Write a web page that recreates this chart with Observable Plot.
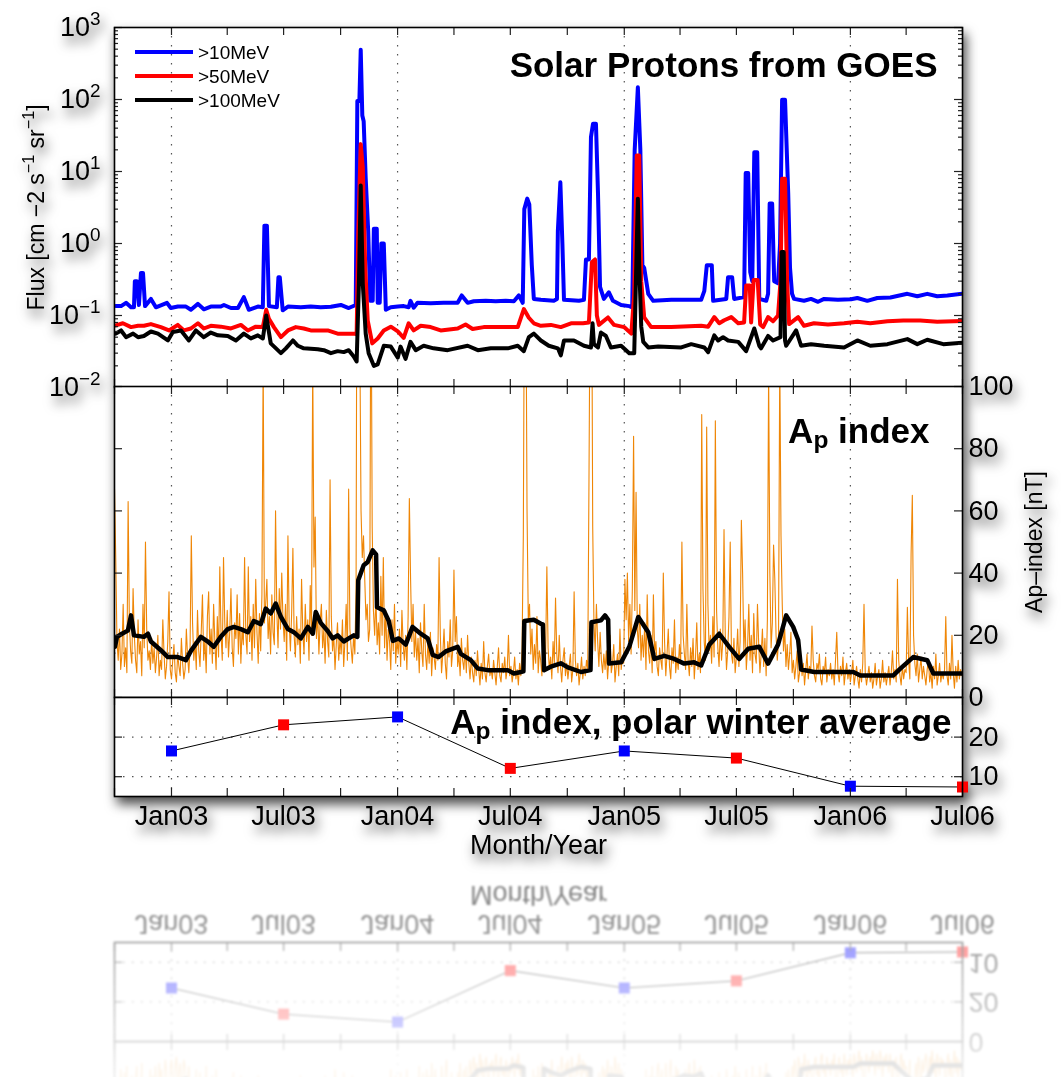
<!DOCTYPE html>
<html>
<head>
<meta charset="utf-8">
<script src="https://cdn.jsdelivr.net/npm/d3@7"></script>
<script src="https://cdn.jsdelivr.net/npm/@observablehq/plot@0.6"></script>
<style>
  html, body { margin: 0; padding: 0; background: #fff; }
  #page { position: relative; width: 1061px; height: 1077px; overflow: hidden; background: #fff; }
  .layer { position: absolute; left: 0; top: 0; width: 1061px; height: 869px; }
  #fig { filter: drop-shadow(3px 7px 6px rgba(0,0,0,0.7)); }
  #mirror {
    transform-origin: 0 869.5px;
    transform: scaleY(-1);
    filter: blur(1.3px);
    -webkit-mask-image: linear-gradient(to bottom, rgba(0,0,0,0) 620px, rgba(0,0,0,0.08) 662px, rgba(0,0,0,0.55) 869px);
    mask-image: linear-gradient(to bottom, rgba(0,0,0,0) 620px, rgba(0,0,0,0.08) 662px, rgba(0,0,0,0.55) 869px);
  }
</style>
</head>
<body>
<div id="page">
  <div id="fig" class="layer"></div>
  <div id="mirror" class="layer"></div>
</div>
<script>
// ---------------------------------------------------------------------------
// GOES integral proton flux [decimal year, flux in cm^-2 s^-1 sr^-1]
// ---------------------------------------------------------------------------
const protons10 = [
  [2002.754,0.135],[2002.777,0.135],[2002.799,0.15],[2002.821,0.13],[2002.834,0.13],[2002.838,0.30],
  [2002.847,0.30],[2002.856,0.14],[2002.865,0.39],[2002.874,0.39],[2002.883,0.135],[2002.909,0.17],
  [2002.931,0.13],[2002.980,0.15],[2002.997,0.127],[2003.028,0.133],[2003.064,0.133],[2003.086,0.12],
  [2003.117,0.145],[2003.143,0.122],[2003.174,0.133],[2003.218,0.133],[2003.232,0.14],[2003.263,0.127],
  [2003.294,0.127],[2003.320,0.18],[2003.342,0.12],[2003.382,0.133],[2003.404,0.13],[2003.411,1.77],
  [2003.422,1.77],[2003.431,0.135],[2003.466,0.13],[2003.473,0.34],[2003.479,0.34],[2003.492,0.118],
  [2003.515,0.133],[2003.572,0.13],[2003.616,0.133],[2003.660,0.13],[2003.705,0.132],[2003.749,0.14],
  [2003.784,0.127],[2003.815,0.14],[2003.822,95],[2003.831,95],[2003.837,490],[2003.844,60],
  [2003.850,50],[2003.859,8],[2003.870,1.5],[2003.879,0.16],[2003.890,0.16],[2003.895,1.6],
  [2003.908,1.6],[2003.912,0.15],[2003.921,0.15],[2003.928,1.0],[2003.939,1.0],[2003.948,0.12],
  [2003.970,0.13],[2004.001,0.133],[2004.027,0.135],[2004.049,0.13],[2004.057,0.16],[2004.071,0.128],
  [2004.088,0.15],[2004.146,0.148],[2004.203,0.15],[2004.265,0.15],[2004.283,0.19],[2004.309,0.15],
  [2004.336,0.158],[2004.389,0.16],[2004.433,0.158],[2004.477,0.16],[2004.513,0.158],[2004.535,0.19],
  [2004.552,0.15],[2004.559,3.0],[2004.572,4.2],[2004.581,3.5],[2004.592,0.5],[2004.601,0.17],
  [2004.632,0.165],[2004.689,0.16],[2004.703,0.17],[2004.707,1.5],[2004.718,7.1],[2004.727,1.0],
  [2004.734,0.165],[2004.800,0.16],[2004.822,0.165],[2004.831,0.6],[2004.844,0.6],[2004.853,30],
  [2004.862,46],[2004.875,46],[2004.884,5],[2004.893,0.25],[2004.910,0.17],[2004.932,0.21],
  [2004.950,0.16],[2004.986,0.14],[2005.022,0.135],[2005.035,0.13],[2005.046,20],[2005.060,148],
  [2005.071,20],[2005.080,0.5],[2005.088,0.46],[2005.106,0.2],[2005.128,0.16],[2005.208,0.165],
  [2005.340,0.165],[2005.354,0.22],[2005.365,0.5],[2005.387,0.5],[2005.393,0.16],[2005.451,0.17],
  [2005.459,0.34],[2005.477,0.34],[2005.486,0.17],[2005.530,0.18],[2005.537,9.5],[2005.548,9.5],
  [2005.557,0.4],[2005.566,0.3],[2005.575,18.5],[2005.588,18.5],[2005.597,0.17],[2005.628,0.16],
  [2005.636,0.2],[2005.643,3.6],[2005.654,3.6],[2005.663,0.3],[2005.680,0.28],[2005.689,1],
  [2005.698,99],[2005.711,99],[2005.725,5],[2005.733,0.46],[2005.742,0.2],[2005.751,0.17],
  [2005.795,0.16],[2005.826,0.17],[2005.857,0.155],[2005.884,0.17],[2005.945,0.165],[2006.003,0.168],
  [2006.031,0.175],[2006.075,0.16],[2006.119,0.175],[2006.177,0.178],[2006.252,0.2],[2006.296,0.185],
  [2006.340,0.2],[2006.384,0.185],[2006.429,0.19],[2006.495,0.2]
];
const protons50 = [
  [2002.754,0.073],[2002.785,0.078],[2002.821,0.069],[2002.852,0.072],[2002.878,0.072],[2002.909,0.076],
  [2002.953,0.069],[2002.989,0.062],[2003.028,0.074],[2003.055,0.062],[2003.086,0.066],[2003.117,0.078],
  [2003.143,0.066],[2003.174,0.072],[2003.218,0.07],[2003.263,0.066],[2003.307,0.074],[2003.338,0.062],
  [2003.373,0.07],[2003.404,0.069],[2003.419,0.12],[2003.431,0.09],[2003.453,0.069],[2003.484,0.05],
  [2003.515,0.062],[2003.550,0.069],[2003.585,0.066],[2003.616,0.062],[2003.691,0.062],[2003.735,0.056],
  [2003.806,0.056],[2003.819,0.055],[2003.826,1.4],[2003.837,24],[2003.846,11.5],[2003.857,0.46],
  [2003.868,0.085],[2003.888,0.041],[2003.912,0.048],[2003.939,0.062],[2003.970,0.07],[2004.001,0.06],
  [2004.027,0.049],[2004.049,0.078],[2004.071,0.062],[2004.102,0.072],[2004.146,0.069],[2004.190,0.062],
  [2004.265,0.066],[2004.300,0.075],[2004.331,0.065],[2004.380,0.069],[2004.530,0.069],[2004.557,0.123],
  [2004.579,0.093],[2004.601,0.078],[2004.632,0.072],[2004.676,0.074],[2004.720,0.069],[2004.765,0.078],
  [2004.818,0.078],[2004.844,0.08],[2004.857,0.55],[2004.871,0.6],[2004.879,0.1],[2004.888,0.074],
  [2004.928,0.094],[2004.955,0.074],[2004.999,0.069],[2005.031,0.056],[2005.044,0.2],[2005.055,16.7],
  [2005.066,16.7],[2005.075,0.3],[2005.088,0.094],[2005.119,0.069],[2005.208,0.069],[2005.340,0.072],
  [2005.371,0.07],[2005.398,0.095],[2005.420,0.078],[2005.442,0.086],[2005.473,0.095],[2005.504,0.078],
  [2005.530,0.08],[2005.539,0.26],[2005.555,0.26],[2005.561,0.08],[2005.572,0.31],[2005.590,0.31],
  [2005.601,0.075],[2005.614,0.069],[2005.636,0.095],[2005.658,0.083],[2005.680,0.1],[2005.691,0.3],
  [2005.698,7.9],[2005.711,7.9],[2005.720,0.3],[2005.729,0.076],[2005.769,0.095],[2005.795,0.072],
  [2005.839,0.078],[2005.901,0.075],[2005.972,0.078],[2006.031,0.082],[2006.088,0.078],[2006.164,0.083],
  [2006.234,0.085],[2006.309,0.085],[2006.384,0.082],[2006.495,0.084]
];
const protons100 = [
  [2002.754,0.056],[2002.777,0.062],[2002.799,0.05],[2002.830,0.056],[2002.852,0.05],[2002.878,0.052],
  [2002.909,0.06],[2002.940,0.056],[2002.984,0.045],[2003.006,0.059],[2003.042,0.062],[2003.077,0.045],
  [2003.108,0.062],[2003.143,0.05],[2003.174,0.058],[2003.205,0.053],[2003.249,0.052],[2003.285,0.045],
  [2003.320,0.056],[2003.351,0.048],[2003.382,0.053],[2003.404,0.048],[2003.419,0.1],[2003.439,0.041],
  [2003.484,0.03],[2003.506,0.035],[2003.537,0.045],[2003.559,0.038],[2003.585,0.035],[2003.647,0.034],
  [2003.674,0.033],[2003.705,0.03],[2003.735,0.032],[2003.762,0.031],[2003.784,0.033],[2003.806,0.027],
  [2003.819,0.023],[2003.829,0.28],[2003.837,6.4],[2003.846,0.28],[2003.859,0.056],[2003.872,0.03],
  [2003.895,0.02],[2003.912,0.021],[2003.939,0.038],[2003.970,0.037],[2004.001,0.026],[2004.013,0.037],
  [2004.035,0.025],[2004.057,0.043],[2004.080,0.033],[2004.115,0.038],[2004.159,0.035],[2004.221,0.033],
  [2004.309,0.038],[2004.354,0.033],[2004.411,0.035],[2004.486,0.035],[2004.530,0.038],[2004.557,0.032],
  [2004.579,0.05],[2004.601,0.056],[2004.632,0.045],[2004.667,0.038],[2004.707,0.035],[2004.720,0.028],
  [2004.734,0.045],[2004.778,0.045],[2004.822,0.038],[2004.853,0.036],[2004.860,0.078],[2004.866,0.04],
  [2004.884,0.036],[2004.897,0.058],[2004.919,0.052],[2004.941,0.036],[2004.986,0.038],[2005.022,0.03],
  [2005.044,0.03],[2005.053,0.5],[2005.060,4.2],[2005.066,0.5],[2005.075,0.07],[2005.084,0.043],
  [2005.106,0.036],[2005.150,0.037],[2005.252,0.036],[2005.296,0.04],[2005.354,0.036],[2005.371,0.031],
  [2005.398,0.053],[2005.415,0.045],[2005.437,0.05],[2005.459,0.045],[2005.504,0.043],[2005.539,0.032],
  [2005.575,0.066],[2005.597,0.038],[2005.605,0.035],[2005.636,0.052],[2005.658,0.045],[2005.691,0.05],
  [2005.696,0.76],[2005.705,0.76],[2005.711,0.045],[2005.716,0.038],[2005.760,0.062],[2005.782,0.038],
  [2005.826,0.04],[2005.884,0.038],[2005.972,0.036],[2006.031,0.045],[2006.088,0.038],[2006.164,0.04],
  [2006.252,0.047],[2006.296,0.04],[2006.340,0.046],[2006.411,0.04],[2006.495,0.042]
];
const protonLabels = [">10MeV", ">50MeV", ">100MeV"];
const protonColors = ["#0000ff", "#ff0000", "#000000"];

// ---------------------------------------------------------------------------
// Ap index: every second day starting 2002-10-01 [nT]
// ---------------------------------------------------------------------------
const apEvery2Days = [
  67,45,18,12,22,9,14,30,10,16,8,63,24,15,11,35,          // 2002 Oct
  20,12,8,25,14,18,7,30,16,50,22,12,15,9,19,              // Nov
  11,16,8,13,20,7,12,9,25,14,6,10,18,34,9,                // Dec
  6,12,17,8,5,14,10,7,19,11,6,9,22,13,8,16,               // 2003 Jan
  52,24,12,18,9,28,15,10,21,33,12,19,8,26,                // Feb
  34,14,22,11,30,18,9,26,13,42,20,12,45,24,16,            // Mar
  28,13,21,35,16,10,24,19,33,14,27,11,22,17,45,           // Apr
  20,14,42,18,26,12,30,16,38,21,11,27,15,33,109,24,       // May
  30,38,19,26,14,33,21,17,60,28,16,35,22,40,25,           // Jun
  18,30,12,52,24,15,27,48,20,13,26,17,22,11,38,           // Jul
  21,14,30,18,25,12,36,20,108,42,58,19,27,14,24,30,       // Aug
  16,22,11,28,18,13,70,26,15,20,9,17,24,12,19,            // Sep
  14,25,10,18,30,12,67,22,16,11,20,14,35,204,191,         // Oct
  116,60,45,52,38,25,30,18,22,150,55,28,20,33,17,         // Nov
  24,14,39,20,45,16,28,12,22,18,9,25,15,30,11,19,         // Dec
  14,22,10,28,17,12,20,9,26,64,38,18,30,13,21,            // 2004 Jan
  12,19,8,24,15,10,30,14,9,18,11,21,7,16,13,              // Feb
  9,17,12,45,20,8,14,22,11,6,18,13,25,10,15,              // Mar
  41,18,26,10,14,7,19,12,9,16,8,20,11,6,13,               // Apr
  8,5,12,7,15,9,4,11,6,18,8,5,10,14,7,9,                  // May
  6,12,8,4,10,16,7,5,11,8,13,6,9,20,7,                    // Jun
  10,5,8,13,6,9,4,11,7,16,52,150,140,60,25,               // Jul
  30,14,22,9,17,11,26,8,15,12,7,19,10,14,42,16,           // Aug
  9,13,6,18,11,32,14,8,20,10,5,12,16,7,11,                // Sep
  6,10,14,5,9,34,12,7,11,4,8,13,6,10,7,                   // Oct
  12,9,70,140,160,55,24,15,30,18,10,21,12,8,14,           // Nov
  9,15,6,12,20,8,11,17,5,10,14,7,22,9,13,11,              // Dec
  38,25,40,18,30,14,35,84,28,66,22,16,30,12,20,           // 2005 Jan
  13,24,9,33,15,11,20,8,33,14,18,10,7,16,                 // Feb
  12,9,40,18,7,14,22,10,6,16,11,25,8,13,9,17,             // Mar
  11,50,20,14,9,30,12,7,16,10,19,6,13,24,9,               // Apr
  14,8,91,35,18,12,87,30,15,20,11,26,13,89,28,            // May
  16,10,22,12,18,54,20,9,15,26,50,14,11,19,8,             // Jun
  13,22,10,18,57,40,15,25,9,16,30,12,20,8,27,14,          // Jul
  11,30,17,8,14,22,10,19,7,25,105,40,16,24,49,            // Aug
  38,20,12,18,110,52,30,15,22,10,17,9,14,21,8,            // Sep
  12,6,10,15,5,8,13,7,11,4,9,14,6,10,8,23,                // Oct
  12,7,5,11,9,14,6,4,10,8,13,5,9,7,11,                    // Nov
  6,9,4,12,21,8,5,10,7,13,4,8,11,6,9,                     // Dec
  5,8,12,4,7,10,6,3,9,5,11,30,8,4,7,10,                   // 2006 Jan
  5,8,3,6,11,4,7,9,3,6,12,5,8,4,                          // Feb
  7,10,4,8,15,6,9,5,38,12,7,4,10,6,9,                     // Mar
  8,29,12,6,46,65,20,11,7,14,5,9,13,6,10,                 // Apr
  7,4,9,12,5,8,3,10,6,14,4,7,11,5,8,6,                    // May
  9,26,7,4,11,6,20,8,3,10,5,12,6,9,7                      // Jun
];

// Running mean of Ap [decimal year, nT]
const apRunningMean = [
  [2002.750,16.3],[2002.759,19.5],[2002.781,20.5],[2002.807,21.5],[2002.821,26.4],[2002.834,20],
  [2002.878,19.5],[2002.896,20.5],[2002.909,18],[2002.953,15.2],[2002.984,13],[2003.028,13],
  [2003.064,12],[2003.086,15],[2003.130,19.5],[2003.161,18],[2003.187,16.3],[2003.218,19.5],
  [2003.249,22],[2003.276,22.7],[2003.307,22],[2003.338,21],[2003.364,24.6],[2003.395,23.6],
  [2003.417,28.6],[2003.439,27],[2003.461,30.2],[2003.484,25.9],[2003.515,22],[2003.541,21],
  [2003.572,19],[2003.603,22.7],[2003.625,20.5],[2003.638,27.5],[2003.660,24],[2003.691,21.4],
  [2003.713,19],[2003.735,20],[2003.762,18],[2003.784,19],[2003.806,20],[2003.822,19.5],
  [2003.826,37.7],[2003.850,42.5],[2003.868,43.6],[2003.890,47.3],[2003.905,46],[2003.909,29],
  [2003.939,28],[2003.961,24.6],[2003.979,18.2],[2004.005,19],[2004.036,17],[2004.066,22.7],
  [2004.102,20.5],[2004.133,19],[2004.155,13.7],[2004.181,13],[2004.212,14.8],[2004.265,16.3],
  [2004.279,14],[2004.323,12],[2004.354,9.3],[2004.398,8.8],[2004.442,8.8],[2004.486,8.8],
  [2004.513,7.7],[2004.544,8.2],[2004.555,8.4],[2004.559,24.6],[2004.601,25],[2004.632,23.7],
  [2004.641,23.5],[2004.646,8.8],[2004.676,9.9],[2004.720,11],[2004.751,9.7],[2004.809,8.2],
  [2004.851,8.8],[2004.855,24.2],[2004.897,24.8],[2004.915,26.4],[2004.929,25],[2004.933,10.9],
  [2004.986,11.3],[2005.022,16.3],[2005.062,25.9],[2005.106,21],[2005.133,12.4],[2005.177,13.4],
  [2005.221,12.4],[2005.265,10.9],[2005.309,11.3],[2005.340,10.3],[2005.376,17],[2005.420,20.5],
  [2005.464,16.3],[2005.508,12.4],[2005.548,15.7],[2005.597,16.3],[2005.636,10.9],[2005.680,17],
  [2005.716,26.4],[2005.747,22.7],[2005.769,18.5],[2005.782,9],[2005.840,8.2],[2005.928,8.2],
  [2006.013,8.2],[2006.044,7.1],[2006.119,7.1],[2006.190,7.1],[2006.221,9.3],[2006.278,13],
  [2006.340,12],[2006.367,7.7],[2006.411,7.7],[2006.495,7.7]
];
const apLongTermMean = 14.3;

// Polar winter averages of Ap (January = northern winter, July = southern winter)
const winterDates = ["2003-01-01","2003-07-01","2004-01-01","2004-07-01","2005-01-01","2005-07-01","2006-01-01","2006-07-01"];
const winterAp = [16.5, 23.1, 25.1, 12.1, 16.5, 14.7, 7.6, 7.4];
const winterPole = ["north","south","north","south","north","south","north","south"];

// Axis tick values
const fluxDecades = [1e-2, 1e-1, 1e0, 1e1, 1e2, 1e3];
const apTicks = [0, 20, 40, 60, 80, 100];
const winterTicks = [10, 20];

// ---------------------------------------------------------------------------
// Layout
// ---------------------------------------------------------------------------
const W = 1061, H = 869;
const LEFT = 114, RIGHT = 962, FW = RIGHT - LEFT;
const P1 = [27, 387], P2 = [386, 697], P3 = [697, 796];
const FONT = '"Liberation Sans", Arial, Helvetica, sans-serif';
const TICK = "#222";
const GRID = {stroke: "#555", strokeWidth: 1.2, strokeDasharray: "1.5,7.5"};

const fromYear = y => {
  const Y = Math.floor(y), a = Date.UTC(Y, 0, 1), b = Date.UTC(Y + 1, 0, 1);
  return new Date(a + (y - Y) * (b - a));
};
const apStart = Date.UTC(2002, 9, 1);
const xDomain = [new Date(apStart), new Date(Date.UTC(2006, 6, 1))];
const quarterDates = d3.utcMonth.every(3).range(xDomain[0], new Date(Date.UTC(2006, 6, 2)));
const yearDates = [2003, 2004, 2005, 2006].map(y => new Date(Date.UTC(y, 0, 1)));
const labelDates = d3.utcMonth.every(6).range(yearDates[0], new Date(Date.UTC(2006, 6, 2)));
const fmtMonth = d3.utcFormat("%b%y");

const xTicks = h => [
  Plot.tickX(quarterDates, {x: d => d, insetTop: h - 8, stroke: TICK, strokeWidth: 1.2}),
  Plot.tickX(quarterDates, {x: d => d, insetBottom: h - 8, stroke: TICK, strokeWidth: 1.2})
];
const yTicks = (values, len) => [
  Plot.tickY(values, {y: d => d, insetRight: FW - len, stroke: TICK, strokeWidth: 1.2}),
  Plot.tickY(values, {y: d => d, insetLeft: FW - len, stroke: TICK, strokeWidth: 1.2})
];
const title = (s, dx, dy) => Plot.text([s], {
  frameAnchor: "top-right", textAnchor: "end", lineAnchor: "bottom",
  dx, dy, fontSize: 35, fontWeight: "bold", fill: "black"
});

function panel([top, bottom], y, marks, extra = {}) {
  return Plot.plot({
    width: W, height: H,
    marginLeft: LEFT, marginRight: W - RIGHT, marginTop: top, marginBottom: H - bottom,
    x: {type: "utc", domain: xDomain, axis: null},
    y: {...y, axis: null},
    style: {position: "absolute", left: "0", top: "0", overflow: "visible", background: "transparent",
            fontFamily: FONT, fontSize: "27px", color: "black"},
    ...extra,
    marks: marks.filter(Boolean)
  });
}

// Superscripts (^{..}) and subscripts (_{..}) as shifted tspans
const SVGNS = "http://www.w3.org/2000/svg";
function richText(root) {
  root.querySelectorAll("text").forEach(t => {
    const s = t.textContent;
    if (!/[\^_]\{/.test(s)) return;
    const fs = parseFloat(getComputedStyle(t).fontSize) || 27;
    t.textContent = "";
    let shift = 0;
    for (const m of s.matchAll(/([\^_])\{([^}]*)\}|[^\^_]+/g)) {
      const span = document.createElementNS(SVGNS, "tspan");
      let target = 0;
      if (m[1]) {
        target = m[1] === "^" ? -0.42 * fs : 0.16 * fs;
        span.setAttribute("font-size", (0.7 * fs).toFixed(1));
        span.textContent = m[2];
      } else {
        span.textContent = m[0];
      }
      if (target !== shift) span.setAttribute("dy", (target - shift).toFixed(2));
      shift = target;
      t.appendChild(span);
    }
  });
}

// full = false builds only the lower part used for the reflection under the figure
function buildFigure(layer, full) {
  const protonSeries = [protons10, protons50, protons100];
  const logMinor = d3.range(-2, 3).flatMap(k => d3.range(2, 10).map(m => m * 10 ** k));
  const exp = d => { const e = Math.round(Math.log10(d)); return e < 0 ? "\u2212" + (-e) : String(e); };
  const plots = [];

  // Solar protons panel (log scale)
  if (full) {
    const top = panel(P1, {type: "log", domain: [1e-2, 1e3]}, [
      Plot.frame({fill: "white"}),
      Plot.ruleX(yearDates, GRID),
      ...protonSeries.map((s, i) => Plot.line(s, {
        x: d => fromYear(d[0]), y: d => d[1], stroke: protonColors[i], strokeWidth: 4,
        strokeLinejoin: "round", clip: true
      })),
      ...xTicks(P1[1] - P1[0]),
      ...yTicks(fluxDecades, 8),
      ...yTicks(logMinor, 4),
      Plot.text(fluxDecades, {y: d => d, text: d => `10^{${exp(d)}}`, frameAnchor: "left", textAnchor: "end", dx: -14}),
      Plot.text(["Flux [cm \u22122 s^{\u22121} sr^{\u22121}]"], {
        frameAnchor: "left", rotate: -90, dx: -71, fontSize: 23, lineAnchor: "bottom", textAnchor: "middle"
      }),
      title("Solar Protons from GOES", -25, 49),
      Plot.frame({stroke: "black", strokeWidth: 1.6})
    ]);
    // Legend for the proton channels
    const g = d3.select(top).append("g").attr("font-size", 19).attr("text-anchor", "start");
    protonLabels.forEach((label, i) => {
      const y = 52 + i * 24;
      g.append("line").attr("x1", 135).attr("x2", 193).attr("y1", y).attr("y2", y)
        .attr("stroke", protonColors[i]).attr("stroke-width", 4);
      g.append("text").attr("x", 198).attr("y", y).attr("dy", "0.35em").text(label);
    });
    plots.push(top);
  }

  // Daily Ap panel
  const mid = panel(P2, {domain: [0, 100]}, [
    Plot.frame({fill: "white"}),
    Plot.ruleX(yearDates, GRID),
    Plot.ruleY([apLongTermMean], GRID),
    Plot.line(apEvery2Days, {
      x: (d, i) => new Date(apStart + i * 2 * 864e5), y: d => d,
      stroke: "#ef8606", strokeWidth: 1.1, clip: true
    }),
    Plot.line(apRunningMean, {
      x: d => fromYear(d[0]), y: d => d[1], stroke: "black", strokeWidth: 4.5,
      strokeLinejoin: "round", clip: true
    }),
    ...xTicks(P2[1] - P2[0]),
    ...yTicks(apTicks, 8),
    Plot.text(full ? apTicks : [0], {y: d => d, frameAnchor: "right", textAnchor: "start", dx: 6}),
    full && Plot.text(["Ap\u2013index [nT]"], {
      frameAnchor: "right", rotate: -90, dx: 79, fontSize: 23, lineAnchor: "bottom", textAnchor: "middle"
    }),
    full && title("A_{p} index", -33, 56),
    Plot.frame({stroke: "black", strokeWidth: 1.6})
  ]);
  plots.push(mid);

  // Polar winter averages panel
  const bot = panel(P3, {domain: [5, 30]}, [
    Plot.frame({fill: "white"}),
    Plot.ruleX(yearDates, GRID),
    Plot.ruleY(winterTicks, GRID),
    Plot.line(winterAp, {x: (d, i) => new Date(winterDates[i]), y: d => d, stroke: "black", strokeWidth: 1}),
    Plot.dot(winterAp, {
      x: (d, i) => new Date(winterDates[i]), y: d => d, fill: (d, i) => winterPole[i],
      symbol: "square", r: 6.2, stroke: "none"
    }),
    ...xTicks(P3[1] - P3[0]),
    ...yTicks(winterTicks, 8),
    Plot.text(winterTicks, {y: d => d, frameAnchor: "right", textAnchor: "start", dx: 6}),
    Plot.text(labelDates, {x: d => d, text: d => fmtMonth(d), frameAnchor: "bottom", dy: 28, lineAnchor: "bottom"}),
    Plot.text(["Month/Year"], {frameAnchor: "bottom", dy: 57, lineAnchor: "bottom"}),
    full && title("A_{p} index, polar winter average", -11, 36),
    Plot.frame({stroke: "black", strokeWidth: 1.6})
  ], {color: {domain: ["north", "south"], range: ["#0000ff", "#ff0000"]}});
  plots.push(bot);

  layer.append(...plots);
  plots.forEach(richText);
}

buildFigure(document.getElementById("fig"), true);
buildFigure(document.getElementById("mirror"), false);
</script>
</body>
</html>
